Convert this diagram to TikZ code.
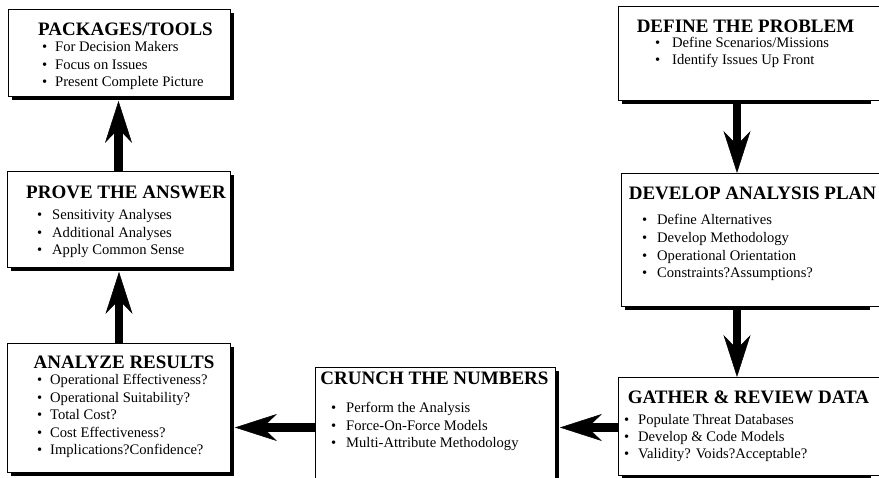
\documentclass[tikz,border=0pt]{standalone}
\usepackage{fontspec}
\setmainfont{Liberation Serif}
\usetikzlibrary{arrows.meta,calc}
\tikzset{
  boxnode/.style={draw=black, line width=0.9pt, fill=white, rectangle, inner sep=0pt, anchor=north west},
  shadowfill/.style={fill=black},
  titletext/.style={font=\fontsize{19}{19}\selectfont\bfseries, inner sep=0pt, anchor=base},
  btxt/.style={font=\fontsize{14.6}{17}\selectfont, inner sep=0pt, anchor=base west},
  bigarrow/.style={line width=8.5pt, -{Stealth[length=42pt, width=27pt, inset=14pt, line width=0.5pt]}}
}
\newcommand\bline[5]{\node[btxt] (#1d) at (#2,#5) {\textbullet}; \node[btxt] (#1) at (#3,#5) {#4};}
\begin{document}
\begin{tikzpicture}[x=1pt,y=-1pt]
\useasboundingbox (0,0) rectangle (879,478);
\clip (0,0) rectangle (879,478);
\fill[white] (0,0) rectangle (879,478);
% shadows
\fill[shadowfill] (12,13) rectangle (234,100);
\fill[shadowfill] (622,10) rectangle (871,104);
\fill[shadowfill] (625,177) rectangle (870,310);
\fill[shadowfill] (622,381) rectangle (871,479);
\fill[shadowfill] (319,371) rectangle (559,495);
\fill[shadowfill] (11,347) rectangle (234,476);
\fill[shadowfill] (11,175) rectangle (234,271);
% boxes
\node[boxnode, minimum width=222pt, minimum height=87pt] (pkg) at (8,9) {};
\node[boxnode, minimum width=267pt, minimum height=94pt] (def) at (618,6) {};
\node[boxnode, minimum width=264pt, minimum height=133pt] (dev) at (621,173) {};
\node[boxnode, minimum width=267pt, minimum height=98pt] (gat) at (618,377) {};
\node[boxnode, minimum width=240pt, minimum height=123pt] (cru) at (315,367) {};
\node[boxnode, minimum width=223pt, minimum height=129pt] (ana) at (7,343) {};
\node[boxnode, minimum width=223pt, minimum height=96pt] (pro) at (7,171) {};
% texts
\node[titletext] (pkgt) at (125.5,36) {PACKAGES/TOOLS};
\bline{pkg1}{42}{55}{For Decision Makers}{52}
\bline{pkg2}{42}{55}{Focus on Issues}{69.5}
\bline{pkg3}{42}{55}{Present Complete Picture}{87}

\node[titletext] (deft) at (745.5,33) {DEFINE THE PROBLEM};
\bline{def1}{655}{672}{Define Scenarios/Missions}{48}
\bline{def2}{655}{672}{Identify Issues Up Front}{65}

\node[titletext] (devt) at (752.5,200) {DEVELOP ANALYSIS PLAN};
\bline{dev1}{642}{657}{Define Alternatives}{225}
\bline{dev2}{642}{657}{Develop Methodology}{243}
\bline{dev3}{642}{657}{Operational Orientation}{260.5}
\bline{dev4}{642}{657}{Constraints?Assumptions?}{278}

\node[titletext] (gatt) at (748.5,404) {GATHER \& REVIEW DATA};
\bline{gat1}{624}{638}{Populate Threat Databases}{425}
\bline{gat2}{624}{638}{Develop \& Code Models}{442}
\bline{gat3}{624}{638}{Validity? Voids?Acceptable?}{459}

\node[titletext] (crut) at (434.5,385) {CRUNCH THE NUMBERS};
\bline{cru1}{331}{346}{Perform the Analysis}{413}
\bline{cru2}{331}{346}{Force-On-Force Models}{431}
\bline{cru3}{331}{346}{Multi-Attribute Methodology}{448}

\node[titletext] (anat) at (124,369) {ANALYZE RESULTS};
\bline{ana1}{37}{50}{Operational Effectiveness?}{385}
\bline{ana2}{37}{50}{Operational Suitability?}{403}
\bline{ana3}{37}{50}{Total Cost?}{420}
\bline{ana4}{37}{50}{Cost Effectiveness?}{437.5}
\bline{ana5}{37}{50}{Implications?Confidence?}{455}

\node[titletext] (prot) at (126,199) {PROVE THE ANSWER};
\bline{pro1}{37}{52}{Sensitivity Analyses}{220}
\bline{pro2}{37}{52}{Additional Analyses}{237.5}
\bline{pro3}{37}{52}{Apply Common Sense}{255}

% arrow guides
\coordinate (a1) at (737,0);
\coordinate (a3) at (0,427.5);
\coordinate (a5) at (119,0);
\coordinate (a6) at (118.5,0);
% arrows
\draw[bigarrow] (def.south -| a1) -- (dev.north -| a1);
\draw[bigarrow] (dev.south -| a1) -- (gat.north -| a1);
\draw[bigarrow] (gat.west |- a3) -- ($(cru.east |- a3)+(4,0)$);
\draw[bigarrow] (cru.west |- a3) -- ($(ana.east |- a3)+(4,0)$);
\draw[bigarrow] (ana.north -| a5) -- ($(pro.south -| a5)+(0,4)$);
\draw[bigarrow] (pro.north -| a6) -- ($(pkg.south -| a6)+(0,4)$);
\end{tikzpicture}
\end{document}
